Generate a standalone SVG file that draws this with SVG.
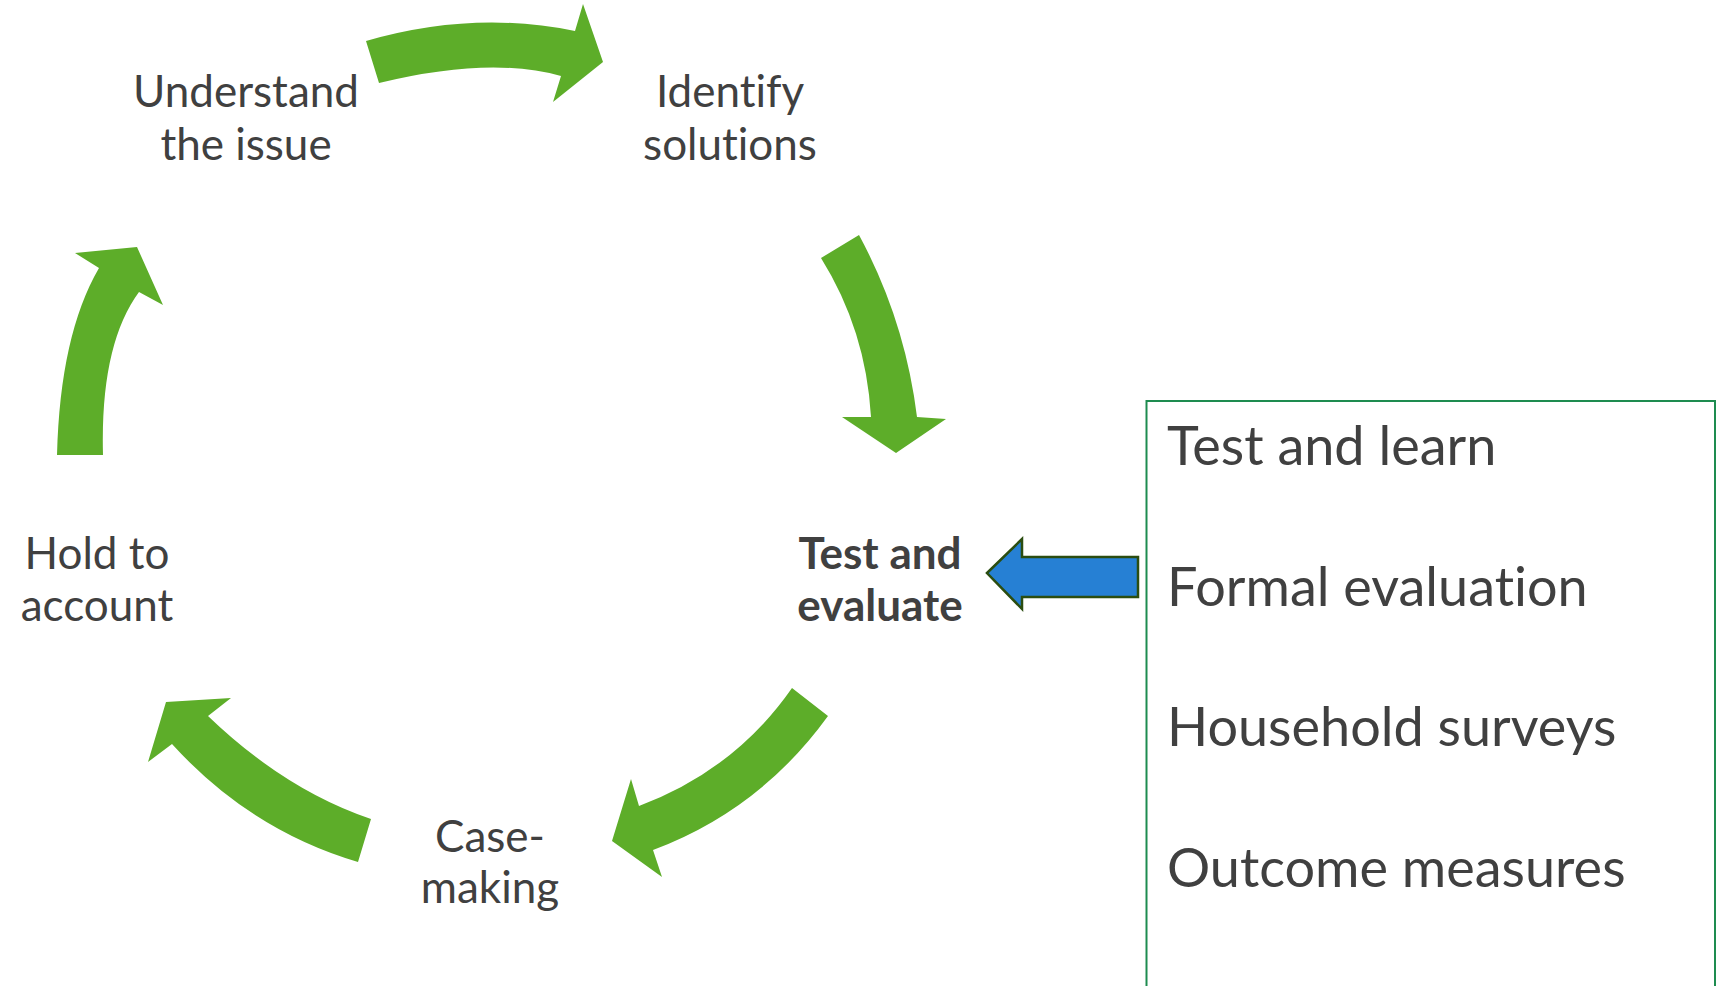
<svg xmlns="http://www.w3.org/2000/svg" width="1717" height="986" viewBox="0 0 1717 986">
  <style>
    text { font-variant-ligatures: none; font-feature-settings: "liga" 0, "clig" 0; }
    .lbl { font-family: Lato, "Liberation Sans", sans-serif; font-size: 44px; fill: #404040; text-anchor: middle; }
    .bold { font-weight: bold; }
    .item { font-family: Lato, "Liberation Sans", sans-serif; font-size: 54px; fill: #404040; }
    .cyc { fill: #5DAD29; stroke: none; }
  </style>
  <rect width="1717" height="986" fill="#ffffff"/>
  <g id="connectors">
    <path class="cyc" d="M366,41 Q473,10 575,31 L583,4 L603,62 L553,102 L561,76 Q490,56 379,83 Z"/>
    <path class="cyc" d="M821,258 L859,235 Q905,320 917,417 L946,419 L896,453 L842,417 L871,417 Q866,330 821,258 Z"/>
    <path class="cyc" d="M792,688 L828,716 Q760,810 653,850 L662,877 L612,841 L631,779 L639,806 Q735,770 792,688 Z"/>
    <path class="cyc" d="M371,819 L358,862 Q250,830 172,744 L148,762 L166,702 L231,698 L208,716 Q285,790 371,819 Z"/>
    <path class="cyc" d="M57,455 Q60,335 99,268 L75,253 L137,247 L163,305 L139,292 Q100,345 103,455 Z"/>
    <path d="M987,573 L1022,539 L1022,557 L1138,557 L1138,597 L1022,597 L1022,609 Z" fill="#2680D4" stroke="#2B4D10" stroke-width="2.5" stroke-linejoin="miter"/>
  </g>
  <g id="node-understand">
    <text class="lbl" x="246" y="107">Understand</text>
    <text class="lbl" x="246" y="160">the issue</text>
  </g>
  <g id="node-identify">
    <text class="lbl" x="730" y="107">Identify</text>
    <text class="lbl" x="730" y="160">solutions</text>
  </g>
  <g id="node-test">
    <text class="lbl bold" x="880" y="569">Test and</text>
    <text class="lbl bold" x="880" y="621">evaluate</text>
  </g>
  <g id="node-case">
    <text class="lbl" x="490" y="852">Case-</text>
    <text class="lbl" x="490" y="903">making</text>
  </g>
  <g id="node-hold">
    <text class="lbl" x="97" y="569">Hold to</text>
    <text class="lbl" x="97" y="621">account</text>
  </g>
  <g id="node-methods">
    <rect x="1146.5" y="401" width="568.5" height="600" fill="none" stroke="#1E8C50" stroke-width="2"/>
    <text class="item" x="1167" y="465">Test and learn</text>
    <text class="item" x="1167" y="606">Formal evaluation</text>
    <text class="item" x="1167" y="746">Household surveys</text>
    <text class="item" x="1167" y="887">Outcome measures</text>
  </g>
</svg>
